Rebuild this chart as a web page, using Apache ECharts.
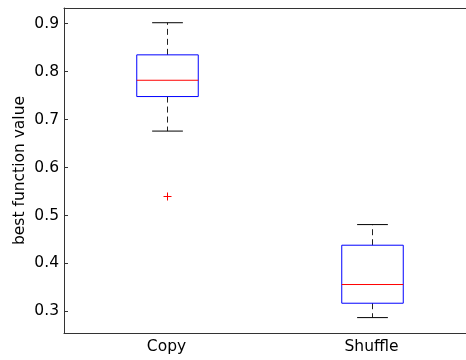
<!DOCTYPE html>
<html>
<head>
<meta charset="utf-8">
<script src="https://cdn.jsdelivr.net/npm/echarts@6/dist/echarts.min.js"></script>
<style>html,body{margin:0;padding:0;background:#fff;overflow:hidden}#c{width:466px;height:360px}</style>
</head>
<body>
<div id="c"></div>
<script>
const categories = ['Copy', 'Shuffle'];
const lowerWhisker = [0.676, 0.287];
const q1 = [0.748, 0.317];
const medians = [0.782, 0.356];
const q3 = [0.835, 0.438];
const upperWhisker = [0.902, 0.481];
const outlierCategory = [0];
const outlierValue = [0.540];
const yTicks = [0.3, 0.4, 0.5, 0.6, 0.7, 0.8, 0.9];
const yName = 'best function value';

const boxData = categories.map((c, i) => [i, lowerWhisker[i], q1[i], medians[i], q3[i], upperWhisker[i]]);
const outlierData = outlierCategory.map((c, i) => [c, outlierValue[i]]);

const FONT = 'DejaVu Sans, sans-serif';
const AX = '#333';

function renderBox(params, api) {
  const idx = api.value(0);
  const lo = api.coord([idx, api.value(1)]);
  const b1 = api.coord([idx, api.value(2)]);
  const md = api.coord([idx, api.value(3)]);
  const b3 = api.coord([idx, api.value(4)]);
  const hi = api.coord([idx, api.value(5)]);
  const bw = api.size([1, 0])[0] * 0.3;
  const cx = Math.round(lo[0]) + 0.5;
  const half = bw / 2, cap = bw / 4;
  const dashStyle = { stroke: '#222', lineWidth: 1, lineDash: [6, 4] };
  return {
    type: 'group',
    children: [
      { type: 'line', shape: { x1: cx, y1: b3[1], x2: cx, y2: hi[1] }, style: dashStyle },
      { type: 'line', shape: { x1: cx, y1: b1[1], x2: cx, y2: lo[1] }, style: dashStyle },
      { type: 'line', shape: { x1: cx - cap, y1: hi[1], x2: cx + cap, y2: hi[1] }, style: { stroke: '#000', lineWidth: 1 } },
      { type: 'line', shape: { x1: cx - cap, y1: lo[1], x2: cx + cap, y2: lo[1] }, style: { stroke: '#000', lineWidth: 1 } },
      { type: 'rect', shape: { x: cx - half, y: b3[1], width: bw, height: b1[1] - b3[1] }, style: { fill: null, stroke: '#0000ff', lineWidth: 1 } },
      { type: 'line', shape: { x1: cx - half, y1: md[1], x2: cx + half, y2: md[1] }, style: { stroke: '#ff0000', lineWidth: 1 } }
    ]
  };
}

function renderOutlier(params, api) {
  const p = api.coord([api.value(0), api.value(1)]);
  const x = Math.round(p[0]) + 0.5, y = Math.round(p[1]) + 0.5, r = 4;
  return {
    type: 'group',
    children: [
      { type: 'line', shape: { x1: x - r, y1: y, x2: x + r, y2: y }, style: { stroke: '#ff0000', lineWidth: 1 } },
      { type: 'line', shape: { x1: x, y1: y - r, x2: x, y2: y + r }, style: { stroke: '#ff0000', lineWidth: 1 } }
    ]
  };
}

const chart = echarts.init(document.getElementById('c'), null, { renderer: 'canvas' });
chart.setOption({
  animation: false,
  backgroundColor: '#fff',
  grid: { left: 64, top: 8, right: -8, bottom: 27, outerBoundsMode: 'none' },
  xAxis: [{
    type: 'category', data: categories, position: 'bottom', boundaryGap: true,
    axisLine: { lineStyle: { color: AX, width: 1 } },
    axisTick: { inside: true, alignWithLabel: true, length: 4, lineStyle: { color: AX } },
    axisLabel: { color: '#000', fontSize: 15.5, fontFamily: FONT, margin: 6 },
    splitLine: { show: false }
  }, {
    type: 'category', data: categories, position: 'top', boundaryGap: true,
    axisLine: { lineStyle: { color: AX, width: 1 } },
    axisTick: { inside: true, alignWithLabel: true, length: 4, lineStyle: { color: AX } },
    axisLabel: { show: false }, splitLine: { show: false }
  }],
  yAxis: [{
    type: 'value', min: 0.2549, max: 0.9327, position: 'left',
    name: yName, nameLocation: 'middle', nameGap: 36, nameRotate: 90, nameMoveOverlap: false,
    nameTextStyle: { color: '#000', fontSize: 15.5, fontFamily: FONT },
    axisLine: { show: true, lineStyle: { color: AX, width: 1 } },
    axisTick: { show: true, inside: true, length: 4, customValues: yTicks, lineStyle: { color: AX } },
    axisLabel: { color: '#000', fontSize: 15.5, fontFamily: FONT, margin: 5, customValues: yTicks, formatter: v => v.toFixed(1) },
    splitLine: { show: false }
  }],
  series: [{
    type: 'custom', xAxisIndex: 0, yAxisIndex: 0, renderItem: renderBox, data: boxData,
    encode: { x: 0, y: [1, 2, 3, 4, 5] }, silent: true
  }, {
    type: 'custom', xAxisIndex: 0, yAxisIndex: 0, renderItem: renderOutlier, data: outlierData,
    encode: { x: 0, y: 1 }, silent: true
  }]
});
</script>
</body>
</html>
